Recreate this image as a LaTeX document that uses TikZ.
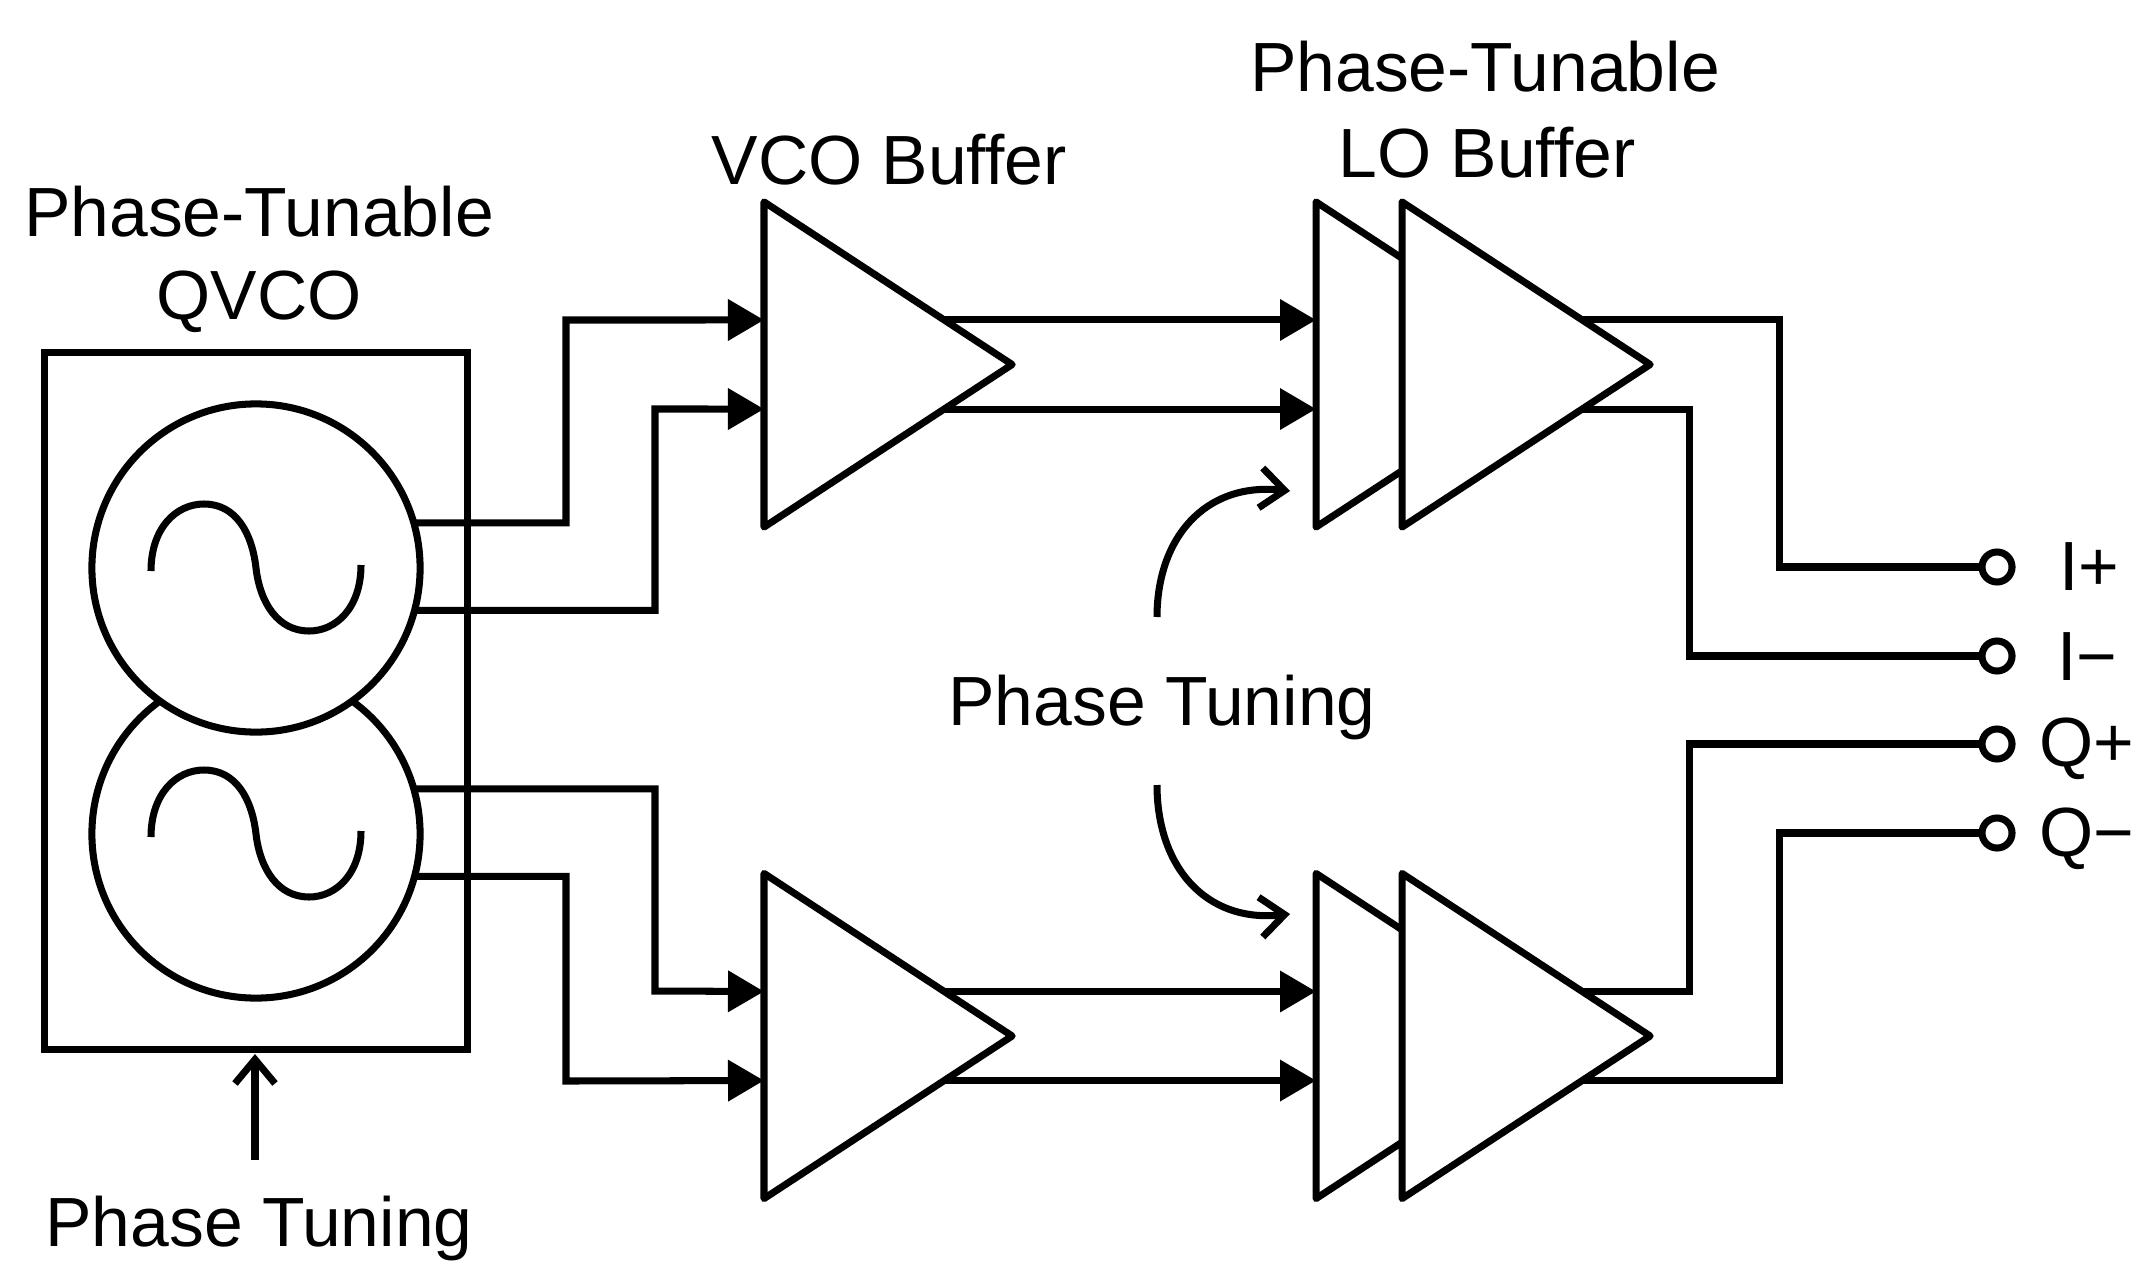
\documentclass[tikz,border=0pt]{standalone}
\usepackage{fontspec}
\setmainfont{Liberation Sans}
\usetikzlibrary{arrows.meta,shapes.geometric}

\tikzset{
  amp/.style={isosceles triangle, isosceles triangle stretches, draw, fill=white, inner sep=0pt, outer sep=0pt,
    minimum height=2.48cm, minimum width=3.25cm, anchor=lower side, line join=round},
  osc/.style={circle, draw, fill=white, minimum size=3.28cm, inner sep=0pt, outer sep=0pt},
  term/.style={circle, draw, fill=white, minimum size=0.3cm, inner sep=0pt, outer sep=0pt},
  lbl/.style={anchor=base, inner sep=0pt, font=\fontsize{19.8}{23}\selectfont},
  sig/.style={-{Triangle[length=0.36cm,width=0.4cm]}},
  ctl/.style={-{Straight Barb[length=0.24cm,width=0.4cm]}}
}

\begin{document}
\begin{tikzpicture}[x=0.01cm,y=-0.01cm,line width=2pt]
        \useasboundingbox (0,0) rectangle (2152,1279);

        % oscillator block
        \node[draw, minimum width=4.22cm, minimum height=6.97cm, inner sep=0pt, outer sep=0pt] (qvco) at (256,701) {};
        \node[osc] (oscq) at (256,834) {};
        \node[osc] (osci) at (256,568) {};
        \foreach \cy in {0,266} {
            \draw[yshift=-\cy*0.01cm] (151,571) .. controls (151,528) and (176,504) .. (204,504)
                .. controls (236,504) and (252,533) .. (256,568)
                .. controls (260,603) and (278,631) .. (309,631)
                .. controls (336,631) and (361,608) .. (361,565);
        }

        % buffers
        \node[amp] (vcoi) at (764,364.5) {};
        \node[amp] (vcoq) at (764,1036) {};
        \node[amp] (lobacki) at (1316,364.5) {};
        \node[amp] (lobackq) at (1316,1036) {};
        \node[amp] (loi) at (1402,364.5) {};
        \node[amp] (loq) at (1402,1036) {};

        \foreach \a in {vcoi,vcoq,lobacki,lobackq,loi,loq} {
            \coordinate (\a p) at ([yshift=0.445cm]\a.lower side);
            \coordinate (\a n) at ([yshift=-0.445cm]\a.lower side);
            \coordinate (\a op) at ([xshift=-0.68cm,yshift=0.445cm]\a.apex);
            \coordinate (\a on) at ([xshift=-0.68cm,yshift=-0.445cm]\a.apex);
        }

        % outputs
        \node[term] (ip) at (1997,567) {};
        \node[term] (in) at (1997,656) {};
        \node[term] (qp) at (1997,744) {};
        \node[term] (qn) at (1997,833) {};

        \draw[sig] (osci.16) -| (566,320) -- (vcoip);
        \draw[sig] (osci.-15) -| (655,409) -- (vcoin);
        \draw[sig] (oscq.16) -| (655,991) -- (vcoqp);
        \draw[sig] (oscq.-15) -| (566,1081) -- (vcoqn);

        \path
        (vcoiop) edge[draw,sig] (lobackip)
        (vcoion) edge[draw,sig] (lobackin)
        (vcoqop) edge[draw,sig] (lobackqp)
        (vcoqon) edge[draw,sig] (lobackqn)
        ;

        \draw (loiop) -| (1779,567) -- (ip);
        \draw (loion) -| (1689,656) -- (in);
        \draw (loqop) -| (1689,744) -- (qp);
        \draw (loqon) -| (1779,833) -- (qn);

        % phase tuning controls
        \node[lbl] (tunea) at (259,1246) {Phase Tuning};
        \node[lbl] (tuneb) at (1162,725) {Phase Tuning};
        \coordinate (qvcotune) at (255,1054);
        \draw[ctl] (255,1160) -- (qvcotune);
        \coordinate (tunei) at (1290,491);
        \coordinate (tuneq) at (1290,914);
        \draw[ctl] (1157,617) .. controls (1157,538) and (1205,482) .. (tunei);
        \draw[ctl] (1157,785) .. controls (1157,866) and (1205,923) .. (tuneq);

        % labels
        \node[lbl] at (259,236) {Phase-Tunable};
        \node[lbl] at (259,319) {QVCO};
        \node[lbl] at (889,185) {VCO Buffer};
        \node[lbl] at (1485,92) {Phase-Tunable};
        \node[lbl] at (1487,177) {LO Buffer};
        \node[lbl] at (2089,590) {I+};
        \node[lbl] at (2087,680) {I−};
        \node[lbl] at (2087,766) {Q+};
        \node[lbl] at (2087,856) {Q−};

\end{tikzpicture}
\end{document}
